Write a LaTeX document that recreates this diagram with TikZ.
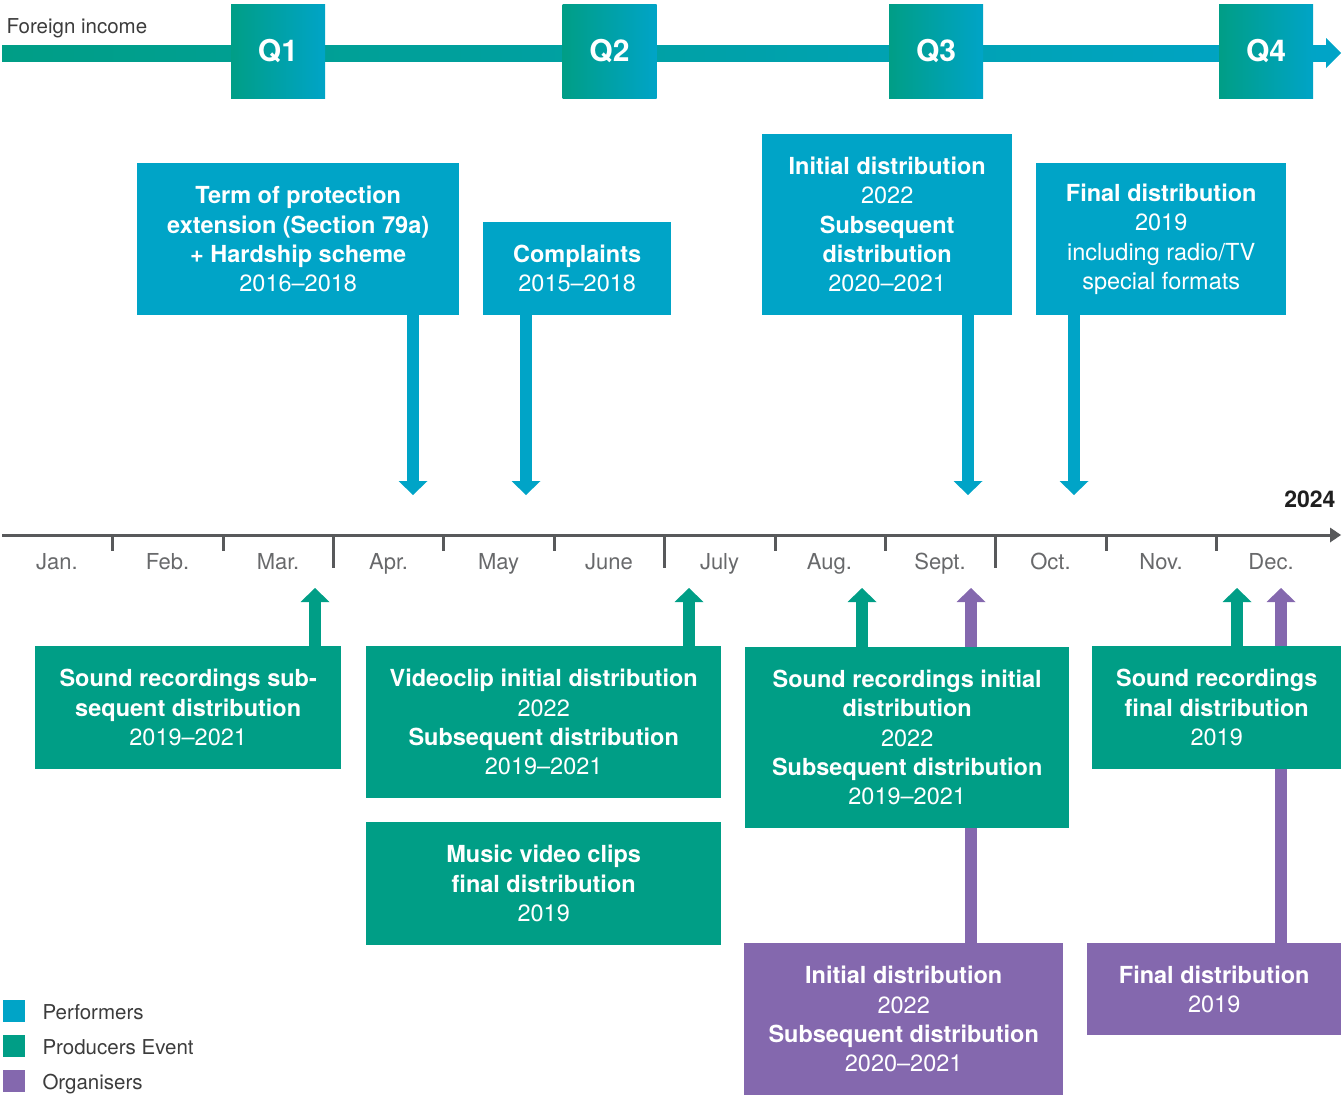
\documentclass[tikz,border=0pt]{standalone}
\usepackage{fontspec}
\setmainfont{TeX Gyre Heros}
\usetikzlibrary{arrows.meta}
\definecolor{blu}{HTML}{00A4C7}
\definecolor{grn}{HTML}{009E86}
\definecolor{pur}{HTML}{8468AE}
\definecolor{axc}{HTML}{58595B}
\definecolor{mon}{HTML}{68696B}
\definecolor{txt}{HTML}{3C3C3C}
\begin{document}
\begin{tikzpicture}[x=1pt,y=-1pt,
  bx/.style={inner sep=0pt, anchor=north west, text=white, align=center,
     font=\fontsize{23.5}{29.3}\selectfont},
  pbox/.style={bx, fill=blu},
  gbox/.style={bx, fill=grn},
  obox/.style={bx, fill=pur},
  conn/.style={line width=12pt, -{Triangle[width=29pt,length=14pt,line width=0pt]}},
  qbox/.style={minimum size=94pt, inner sep=0pt, left color=grn, right color=blu,
     text=white, font=\fontsize{30}{30}\selectfont\bfseries},
  month/.style={anchor=base, text=mon, font=\fontsize{22}{22}\selectfont},
  legsq/.style={minimum size=22pt, inner sep=0pt},
  legtx/.style={anchor=base west, text=txt, font=\fontsize{20.5}{20.5}\selectfont},
  tick/.style={line width=3pt, axc}
]
\useasboundingbox (0,0) rectangle (1344,1095);

% top bar
\shade[left color=grn, right color=blu] (2,45) rectangle (1326,61);
\fill[blu] (1326,38) -- (1341,53) -- (1326,68) -- cycle;
\node[anchor=base west, text=txt, font=\fontsize{20.5}{20.5}\selectfont] (fi) at (3,33) {Foreign income};
\node[qbox] (q1) at (278,51) {Q1};
\node[qbox] (q2) at (609.5,51) {Q2};
\node[qbox] (q3) at (936,51) {Q3};
\node[qbox] (q4) at (1266,51) {Q4};

% axis
\coordinate (axs) at (2,535);
\coordinate (axe) at (1341,535);
\draw[line width=3pt, axc, -{Triangle[width=15pt,length=11pt,line width=0pt]}] (axs) -- (axe);
\foreach \x/\l in {112.5/551, 223/551, 333/568, 443.5/551, 554/551, 664.5/568, 775/551, 885/551, 995.5/568, 1106/551, 1216/551}
  \draw[tick] (\x,534) -- (\x,\l);
\node[anchor=base east, text=black!88, font=\fontsize{23}{23}\selectfont\bfseries] (yr) at (1339,507) {2024};
\foreach \x/\m [count=\i] in {57/Jan., 167.5/Feb., 278/Mar., 388.5/Apr., 498.5/May, 609/June, 719.5/July, 829.5/Aug., 940/Sept., 1050.5/Oct., 1161/Nov., 1271/Dec.}
  \node[month] (m\i) at (\x,569) {\m};

% tip coordinates
\coordinate (tb1) at (413,495);
\coordinate (tb2) at (526,495);
\coordinate (tb3) at (968,495);
\coordinate (tb4) at (1074,495);
\coordinate (tg1) at (315,588);
\coordinate (tg2) at (689,588);
\coordinate (tg3) at (862,588);
\coordinate (tg4) at (1237,588);
\coordinate (to1) at (971,588);
\coordinate (to2) at (1281,588);

% organisers
\node[obox, minimum width=319pt, minimum height=152pt] (orginit) at (744,943)
  {\textbf{Initial distribution}\\2022\\\textbf{Subsequent distribution}\\2020–2021};
\node[obox, minimum width=254pt, minimum height=92pt] (orgfin) at (1087,943)
  {\textbf{Final distribution}\\2019};
\draw[conn, pur] (orginit.north -| to1) -- (to1);
\draw[conn, pur] (orgfin.north -| to2) -- (to2);

% producers
\node[gbox, minimum width=306pt, minimum height=123pt] (sndsub) at (35,646)
  {\textbf{Sound recordings sub-}\\\textbf{sequent distribution}\\2019–2021};
\node[gbox, minimum width=355pt, minimum height=152pt] (video) at (366,646)
  {\textbf{Videoclip initial distribution}\\2022\\\textbf{Subsequent distribution}\\2019–2021};
\node[gbox, minimum width=355pt, minimum height=123pt] (music) at (366,822)
  {\textbf{Music video clips}\\\textbf{final distribution}\\2019};
\node[gbox, minimum width=324pt, minimum height=181pt] (sndinit) at (745,647)
  {\textbf{Sound recordings initial}\\\textbf{distribution}\\2022\\\textbf{Subsequent distribution}\\2019–2021};
\node[gbox, minimum width=249pt, minimum height=123pt] (sndfin) at (1092,646)
  {\textbf{Sound recordings}\\\textbf{final distribution}\\2019};
\draw[conn, grn] (sndsub.north -| tg1) -- (tg1);
\draw[conn, grn] (video.north -| tg2) -- (tg2);
\draw[conn, grn] (sndinit.north -| tg3) -- (tg3);
\draw[conn, grn] (sndfin.north -| tg4) -- (tg4);

% performers
\node[pbox, minimum width=322pt, minimum height=152pt] (term) at (137,163)
  {\textbf{Term of protection}\\\textbf{extension (Section 79a)}\\\textbf{+ Hardship scheme}\\2016–2018};
\node[pbox, minimum width=188pt, minimum height=93pt] (compl) at (483,222)
  {\textbf{Complaints}\\2015–2018};
\node[pbox, minimum width=250pt, minimum height=181pt] (init) at (762,134)
  {\textbf{Initial distribution}\\2022\\\textbf{Subsequent}\\\textbf{distribution}\\2020–2021};
\node[pbox, minimum width=250pt, minimum height=152pt] (final) at (1036,163)
  {\textbf{Final distribution}\\2019\\including radio/TV\\special formats};
\draw[conn, blu] (term.south -| tb1) -- (tb1);
\draw[conn, blu] (compl.south -| tb2) -- (tb2);
\draw[conn, blu] (init.south -| tb3) -- (tb3);
\draw[conn, blu] (final.south -| tb4) -- (tb4);

% legend
\node[legsq, fill=blu] (l1) at (14,1011) {};
\node[legsq, fill=grn] (l2) at (14,1046) {};
\node[legsq, fill=pur] (l3) at (14,1081) {};
\node[legtx] (lt1) at (39,1019) {Performers};
\node[legtx] (lt2) at (39,1054) {Producers Event};
\node[legtx] (lt3) at (39,1089) {Organisers};
\end{tikzpicture}
\end{document}
